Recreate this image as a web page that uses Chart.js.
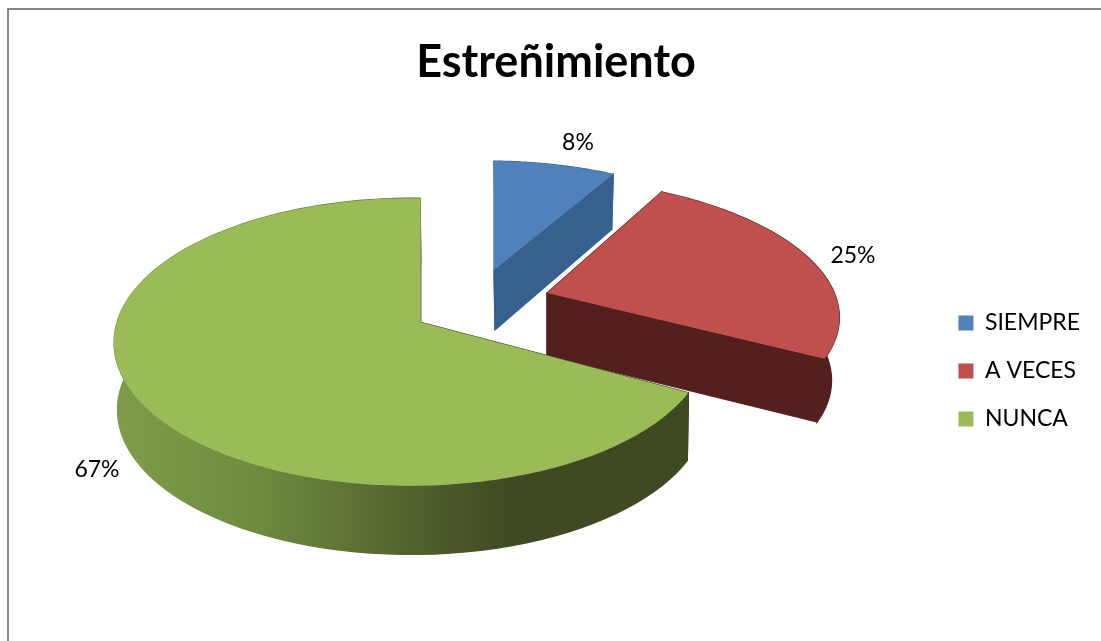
<!DOCTYPE html>
<html lang="es">
<head>
<meta charset="utf-8">
<title>Estreñimiento</title>
<script src="https://cdn.jsdelivr.net/npm/chart.js@4"></script>
<style>
  html, body { margin: 0; padding: 0; background: #fff; overflow: hidden; }
  #frame {
    position: absolute; left: 7px; top: 8px; width: 1094px; height: 633px;
    border-left: 2px solid #868686; border-top: 2px solid #868686;
  }
  #chart { position: absolute; left: 0; top: 0; }
</style>
</head>
<body>
<div id="frame">
  <canvas id="chart" width="1094" height="631" style="width:1094px;height:631px"></canvas>
</div>
<script>
// ─── Datos ─────────────────────────────────────────────────────
const TITLE      = 'Estreñimiento';
const CATEGORIES = ['SIEMPRE', 'A VECES', 'NUNCA'];
const PERCENTS   = [8, 25, 67];
const TOP_COLORS  = ['#4f81bd', '#c0504d', '#9bbb59'];
const SIDE_COLORS = ['#37608f', '#54201e', null];   // null: degradado

// ─── Proyección del disco 3D ───────────────────────────────────
const RADIUS_X = 296, RADIUS_Y = 141, PERSP_V = 0.139, PERSP_U = 0.03;

// Origen y escala de cada porción, cara superior y base (px del canvas)
const SLICE_TOP = [
  { x: 485, y: 260, sx: 0.95,  sy: 0.88, k: 0 },
  { x: 538, y: 283, sx: 1,     sy: 0.93, k: 0.1 },
  { x: 411, y: 312, sx: 0.993, sy: 1,    k: 0 },
];
const SLICE_BASE = [
  { x: 486, y: 320,   sx: 0.93,  sy: 0.925, k: 0 },
  { x: 538, y: 345.5, sx: 0.973, sy: 0.94,  k: 0.1 },
  { x: 412, y: 379,   sx: 0.985, sy: 1.01,  k: 0 },
];
const LABEL_POS = [[569, 133], [844, 246], [88, 460]];

function project(o, a) {
  const u = Math.cos(a), v = Math.sin(a);
  const w = 1 - PERSP_V * v + PERSP_U * u;
  const dx = RADIUS_X * u / w, dy = RADIUS_Y * v / w;
  return [o.x + o.sx * dx + o.k * dy, o.y + o.sy * dy];
}

function rimPoints(o, start, end) {
  const pts = [], n = 90;
  for (let i = 0; i <= n; i++) pts.push(project(o, start + (end - start) * i / n));
  return pts;
}

function fillPoly(ctx, pts, style, seam) {
  ctx.beginPath();
  pts.forEach((p, i) => i ? ctx.lineTo(p[0], p[1]) : ctx.moveTo(p[0], p[1]));
  ctx.closePath();
  ctx.fillStyle = style;
  ctx.fill();
  if (seam) {   // tapa la junta entre caras contiguas
    ctx.strokeStyle = style;
    ctx.lineWidth = 1.2;
    ctx.stroke();
  }
}

function greenSide(ctx) {
  const g = ctx.createLinearGradient(111, 0, 501, 0);
  g.addColorStop(0,    '#7f9c49');
  g.addColorStop(0.36, '#6f8a3f');
  g.addColorStop(0.62, '#5c6f34');
  g.addColorStop(0.8,  '#4d5c2a');
  g.addColorStop(1,    '#3e4a22');
  return g;
}

// Dibuja cada porción extruida a partir de los ángulos que calcula Chart.js
const pie3d = {
  id: 'pie3d',
  beforeDatasetsDraw(chart) {
    const { ctx } = chart;
    const arcs = chart.getDatasetMeta(0).data;
    ctx.save();
    arcs.forEach((arc, i) => {
      const top = SLICE_TOP[i], base = SLICE_BASE[i];
      const side = SIDE_COLORS[i] || greenSide(ctx);
      const rimTop = rimPoints(top, arc.startAngle, arc.endAngle);
      const rimBase = rimPoints(base, arc.startAngle, arc.endAngle);
      const apexTop = [top.x, top.y], apexBase = [base.x, base.y];

      // borde exterior
      fillPoly(ctx, rimTop.concat(rimBase.slice().reverse()), side, true);
      // caras de corte
      fillPoly(ctx, [apexTop, rimTop[0], rimBase[0], apexBase], SIDE_COLORS[i] || '#3e4a22', true);
      fillPoly(ctx, [apexTop, rimTop[90], rimBase[90], apexBase], SIDE_COLORS[i] || '#7f9a4c', true);
      // cara superior
      fillPoly(ctx, [apexTop].concat(rimTop), TOP_COLORS[i]);
    });
    ctx.restore();
    return false;   // sin los arcos planos de la librería
  },
  afterDraw(chart) {
    const { ctx } = chart;
    ctx.save();
    ctx.font = "23px Lato";
    ctx.fillStyle = '#000';
    ctx.textAlign = 'center';
    ctx.textBaseline = 'middle';
    PERCENTS.forEach((p, i) => ctx.fillText(p + '%', LABEL_POS[i][0], LABEL_POS[i][1]));
    ctx.restore();
  }
};

new Chart(document.getElementById('chart'), {
  type: 'pie',
  data: {
    labels: CATEGORIES,
    datasets: [{ data: PERCENTS, backgroundColor: TOP_COLORS, borderWidth: 0 }]
  },
  options: {
    responsive: false,
    animation: false,
    layout: { padding: { left: 13, right: 13, bottom: 0 } },
    plugins: {
      tooltip: { enabled: false },
      title: {
        display: true,
        text: TITLE,
        color: '#000',
        font: { family: 'Lato', size: 45, weight: 'bold' },
        padding: { top: 25, bottom: 12 },
      },
      legend: {
        position: 'right',
        fullSize: false,
        labels: {
          color: '#000',
          font: { family: 'Lato', size: 23 },
          boxWidth: 15,
          boxHeight: 15,
          padding: 25,
        }
      }
    }
  },
  plugins: [pie3d]
});
</script>
</body>
</html>
